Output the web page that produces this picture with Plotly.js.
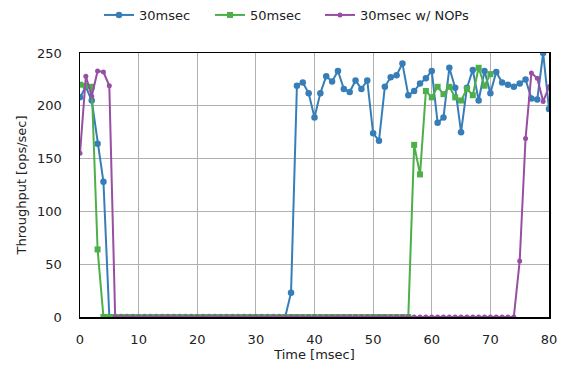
<!DOCTYPE html>
<html>
<head>
<meta charset="utf-8">
<script src="https://cdn.plot.ly/plotly-3.0.1.min.js"></script>
<style>html,body{margin:0;padding:0;background:#fff;}#chart{width:565px;height:371px;}</style>
</head>
<body>
<div id="chart"></div>
<script>
const timeA = [0,1,2,3,4,5,6,7,8,9,10,11,12,13,14,15,16,17,18,19,20,21,22,23,24,25,26,27,28,29,30,31,32,33,34,35,36,37,38,39,40,41,42,43,44,45,46,47,48,49,50,51,52,53,54,55,56,57,58,59,60,61,62,63,64,65,66,67,68,69,70,71,72,73,74,75,76,77,78,79,80];
const timeB = [0,1,2,3,4,5,6,7,8,9,10,11,12,13,14,15,16,17,18,19,20,21,22,23,24,25,26,27,28,29,30,31,32,33,34,35,36,37,38,39,40,41,42,43,44,45,46,47,48,49,50,51,52,53,54,55,56,57,58,59,60,61,62,63,64,65,66,67,68,69,70];
const ms30 = [208,218,205,164,128,
  0,0,0,0,0,0,0,0,0,0,0,0,0,0,0,0,0,0,0,0,0,0,0,0,0,0,0,0,0,0,0,
  23,219,222,212,189,212,228,223,233,216,213,224,216,224,174,167,218,227,229,240,210,214,221,226,233,184,189,236,217,175,217,234,205,233,212,232,222,220,218,221,225,207,206,250,197];
const ms50 = [220,219,218,64,
  0,0,0,0,0,0,0,0,0,0,0,0,0,0,0,0,0,0,0,0,0,0,0,0,0,0,0,0,0,0,0,0,0,0,0,0,0,0,0,0,0,0,0,0,0,0,0,0,0,0,0,0,0,
  163,135,214,208,218,211,218,208,205,216,210,236,219,230];
const ms30nop = [155,228,209,233,232,219,
  0,0,0,0,0,0,0,0,0,0,0,0,0,0,0,0,0,0,0,0,0,0,0,0,0,0,0,0,0,0,0,0,0,0,0,0,0,0,0,0,0,0,0,0,0,0,0,0,0,0,0,0,0,0,0,0,0,0,0,0,0,0,0,0,0,0,0,0,0,
  53,169,231,226,204,218];
const names = ["30msec","50msec","30msec w/ NOPs"];
const colors = ["#377eb8","#4daf4a","#984ea3"];

const traces = [
  {x: timeA, y: ms30, name: names[0], legend: "legend", mode: "lines+markers", line:{color:colors[0], width:2}, marker:{symbol:"circle", size:6.5, color:colors[0]}},
  {x: timeB, y: ms50, name: names[1], legend: "legend2", mode: "lines+markers", line:{color:colors[1], width:2}, marker:{symbol:"square", size:6, color:colors[1]}},
  {x: timeA, y: ms30nop, name: names[2], legend: "legend3", mode: "lines+markers", line:{color:colors[2], width:2}, marker:{symbol:"circle", size:5, color:colors[2]}}
];

const F = "DejaVu Sans, sans-serif";
const TXT = "#222";
const FS = 13;
function leg(px) {
  return {orientation: "h", xref: "container", yref: "container",
          x: px/565, xanchor: "left", y: 1 - 15/371, yanchor: "middle",
          font: {family: F, size: FS, color: TXT}, bgcolor: "rgba(0,0,0,0)"};
}
const layout = {
  width: 565, height: 371,
  margin: {l: 80, r: 16, t: 53, b: 54},
  paper_bgcolor: "#fff", plot_bgcolor: "#fff",
  font: {family: F, size: FS, color: TXT},
  showlegend: true,
  legend: leg(99), legend2: leg(210), legend3: leg(320),
  xaxis: {
    range: [0, 80], tickvals: [0,10,20,30,40,50,60,70,80],
    showgrid: true, gridcolor: "#b0b0b0", gridwidth: 1,
    showline: true, linecolor: "#000", linewidth: 1.5, mirror: true,
    zeroline: false, ticks: "outside", ticklen: 10, tickcolor: "rgba(0,0,0,0)",
    title: {text: "Time [msec]", font: {family: F, size: FS, color: TXT}, standoff: 4},
    tickfont: {family: F, size: FS, color: TXT}
  },
  yaxis: {
    range: [0, 250], tickvals: [0,50,100,150,200,250],
    showgrid: true, gridcolor: "#b0b0b0", gridwidth: 1,
    showline: true, linecolor: "#000", linewidth: 1.5, mirror: true,
    zeroline: false, ticks: "outside", ticklen: 14, tickcolor: "rgba(0,0,0,0)",
    title: {text: "Throughput [ops/sec]", font: {family: F, size: FS, color: TXT}, standoff: 7},
    tickfont: {family: F, size: FS, color: TXT}
  }
};
Plotly.newPlot("chart", traces, layout, {displayModeBar: false, staticPlot: true});
</script>
</body>
</html>
